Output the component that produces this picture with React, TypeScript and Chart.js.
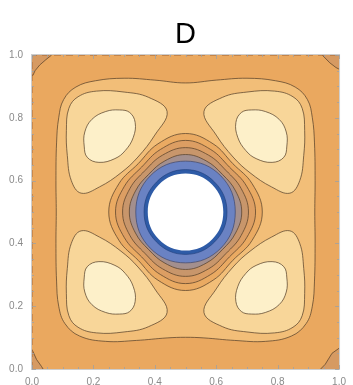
import React, { useEffect, useRef } from 'react';
import { Chart, registerables } from 'chart.js';

Chart.register(...registerables);

type Pt = [number, number];

// ---- axes / labels ----
const titleText = 'D';
const majorTicks = [0, 0.2, 0.4, 0.6, 0.8, 1.0];
const tickLabels = ['0.0', '0.2', '0.4', '0.6', '0.8', '1.0'];
const minorTicks = [0.05, 0.1, 0.15, 0.25, 0.3, 0.35, 0.45, 0.5, 0.55, 0.65, 0.7, 0.75, 0.85, 0.9, 0.95];

// ---- contour polygons (data units) ----
const plotSquare: Pt[] = [[-0.02, -0.02], [1.02, -0.02], [1.02, 1.02], [-0.02, 1.02]];

const cornerTL: Pt[] = [[-0.02, 1.02], [0.064, 1.02], [0.064, 1.0], [0.045, 0.985], [0.025, 0.968], [0.01, 0.95], [0.003, 0.935], [-0.02, 0.935]];
const cornerTR: Pt[] = [[0.945, 1.02], [1.02, 1.02], [1.02, 0.955], [1.0, 0.955], [0.99, 0.96], [0.97, 0.975], [0.945, 1.0]];
const cornerBL: Pt[] = [[-0.02, -0.02], [0.036, -0.02], [0.036, 0.0], [0.031, 0.008], [0.015, 0.03], [0.0, 0.062], [-0.02, 0.062]];
const cornerBR: Pt[] = [[0.94, -0.02], [1.02, -0.02], [1.02, 0.066], [1.0, 0.066], [0.977, 0.05], [0.955, 0.015], [0.94, 0.0]];

const outerContour: Pt[] = [
  [0.079, 0.5], [0.078, 0.6], [0.08, 0.72], [0.087, 0.8], [0.103, 0.858], [0.143, 0.898], [0.207, 0.918],
  [0.3, 0.926], [0.4, 0.92], [0.5, 0.911], [0.6, 0.92], [0.7, 0.926], [0.793, 0.918], [0.857, 0.898],
  [0.897, 0.858], [0.913, 0.8], [0.92, 0.72], [0.922, 0.6], [0.921, 0.5], [0.922, 0.4], [0.92, 0.28],
  [0.913, 0.2], [0.893, 0.145], [0.845, 0.105], [0.76, 0.088], [0.66, 0.091], [0.56, 0.099], [0.5, 0.101],
  [0.44, 0.099], [0.34, 0.091], [0.24, 0.088], [0.155, 0.105], [0.107, 0.145], [0.087, 0.2], [0.08, 0.28], [0.078, 0.4],
];

const lobeOuterLL: Pt[] = [[0.44, 0.18], [0.38, 0.135], [0.3, 0.118], [0.21, 0.115], [0.15, 0.133], [0.12, 0.17], [0.112, 0.24], [0.115, 0.32], [0.128, 0.4], [0.16, 0.44], [0.22, 0.42], [0.29, 0.375], [0.345, 0.325], [0.4, 0.255]];
const lobeOuterLR: Pt[] = [[0.56, 0.18], [0.62, 0.135], [0.7, 0.118], [0.79, 0.115], [0.85, 0.133], [0.88, 0.17], [0.888, 0.24], [0.885, 0.32], [0.872, 0.4], [0.84, 0.44], [0.78, 0.42], [0.71, 0.375], [0.655, 0.325], [0.6, 0.255]];
const lobeOuterUL: Pt[] = [[0.44, 0.82], [0.38, 0.865], [0.3, 0.882], [0.21, 0.885], [0.15, 0.867], [0.12, 0.83], [0.112, 0.76], [0.115, 0.68], [0.128, 0.6], [0.16, 0.56], [0.22, 0.58], [0.29, 0.625], [0.345, 0.675], [0.4, 0.745]];
const lobeOuterUR: Pt[] = [[0.56, 0.82], [0.62, 0.865], [0.7, 0.882], [0.79, 0.885], [0.85, 0.867], [0.88, 0.83], [0.888, 0.76], [0.885, 0.68], [0.872, 0.6], [0.84, 0.56], [0.78, 0.58], [0.71, 0.625], [0.655, 0.675], [0.6, 0.745]];

const lobeInnerLL: Pt[] = [[0.17, 0.29], [0.18, 0.326], [0.218, 0.342], [0.27, 0.33], [0.304, 0.304], [0.33, 0.262], [0.336, 0.215], [0.318, 0.183], [0.285, 0.175], [0.24, 0.18], [0.195, 0.205], [0.172, 0.245]];
const lobeInnerLR: Pt[] = [[0.83, 0.29], [0.82, 0.326], [0.782, 0.342], [0.73, 0.33], [0.696, 0.304], [0.67, 0.262], [0.664, 0.215], [0.682, 0.183], [0.715, 0.175], [0.76, 0.18], [0.805, 0.205], [0.828, 0.245]];
const lobeInnerUL: Pt[] = [[0.17, 0.71], [0.18, 0.674], [0.218, 0.658], [0.27, 0.67], [0.304, 0.696], [0.33, 0.738], [0.336, 0.785], [0.318, 0.817], [0.285, 0.825], [0.24, 0.82], [0.195, 0.795], [0.172, 0.755]];
const lobeInnerUR: Pt[] = [[0.83, 0.71], [0.82, 0.674], [0.782, 0.658], [0.73, 0.67], [0.696, 0.696], [0.67, 0.738], [0.664, 0.785], [0.682, 0.817], [0.715, 0.825], [0.76, 0.82], [0.805, 0.795], [0.828, 0.755]];

const ring1: Pt[] = [[0.75, 0.5], [0.717, 0.59], [0.654, 0.654], [0.59, 0.717], [0.5, 0.75], [0.41, 0.717], [0.346, 0.654], [0.283, 0.59], [0.25, 0.5], [0.283, 0.41], [0.346, 0.346], [0.41, 0.283], [0.5, 0.25], [0.59, 0.283], [0.654, 0.346], [0.717, 0.41]];
const ring2: Pt[] = [[0.728, 0.5], [0.699, 0.582], [0.643, 0.643], [0.582, 0.699], [0.5, 0.728], [0.418, 0.699], [0.357, 0.643], [0.301, 0.582], [0.272, 0.5], [0.301, 0.418], [0.357, 0.357], [0.418, 0.301], [0.5, 0.272], [0.582, 0.301], [0.643, 0.357], [0.699, 0.418]];
const ring3: Pt[] = [[0.705, 0.5], [0.681, 0.575], [0.632, 0.632], [0.575, 0.681], [0.5, 0.705], [0.425, 0.681], [0.368, 0.632], [0.319, 0.575], [0.295, 0.5], [0.319, 0.425], [0.368, 0.368], [0.425, 0.319], [0.5, 0.295], [0.575, 0.319], [0.632, 0.368], [0.681, 0.425]];
const ring4: Pt[] = [[0.683, 0.5], [0.663, 0.567], [0.62, 0.62], [0.567, 0.663], [0.5, 0.683], [0.433, 0.663], [0.38, 0.62], [0.337, 0.567], [0.317, 0.5], [0.337, 0.433], [0.38, 0.38], [0.433, 0.337], [0.5, 0.317], [0.567, 0.337], [0.62, 0.38], [0.663, 0.433]];
const ring5: Pt[] = [[0.662, 0.5], [0.615, 0.615], [0.5, 0.662], [0.385, 0.615], [0.338, 0.5], [0.385, 0.385], [0.5, 0.338], [0.615, 0.385]];
const ring6: Pt[] = [[0.635, 0.5], [0.595, 0.595], [0.5, 0.635], [0.405, 0.595], [0.365, 0.5], [0.405, 0.405], [0.5, 0.365], [0.595, 0.405]];
const hole: Pt[] = [[0.623, 0.5], [0.587, 0.587], [0.5, 0.623], [0.413, 0.587], [0.377, 0.5], [0.413, 0.413], [0.5, 0.377], [0.587, 0.413]];

const edgeDash: Pt[] = [[0, 0], [0, 1], [1, 1]];

const LINE = 'rgba(85,62,40,0.72)';
const NONE = 'rgba(0,0,0,0)';

type Layer = { pts: Pt[]; color: string; stroke: string; tension: number };

const layers: Layer[] = [
  { pts: plotSquare, color: '#EAA85F', stroke: NONE, tension: 0 },
  { pts: cornerTL, color: '#D69A62', stroke: LINE, tension: 0 },
  { pts: cornerTR, color: '#D69A62', stroke: LINE, tension: 0 },
  { pts: cornerBL, color: '#D69A62', stroke: LINE, tension: 0 },
  { pts: cornerBR, color: '#D69A62', stroke: LINE, tension: 0 },
  { pts: outerContour, color: '#F2BE78', stroke: LINE, tension: 0.4 },
  { pts: lobeOuterLL, color: '#F8D699', stroke: LINE, tension: 0.4 },
  { pts: lobeOuterLR, color: '#F8D699', stroke: LINE, tension: 0.4 },
  { pts: lobeOuterUL, color: '#F8D699', stroke: LINE, tension: 0.4 },
  { pts: lobeOuterUR, color: '#F8D699', stroke: LINE, tension: 0.4 },
  { pts: lobeInnerLL, color: '#FDF0C9', stroke: LINE, tension: 0.4 },
  { pts: lobeInnerLR, color: '#FDF0C9', stroke: LINE, tension: 0.4 },
  { pts: lobeInnerUL, color: '#FDF0C9', stroke: LINE, tension: 0.4 },
  { pts: lobeInnerUR, color: '#FDF0C9', stroke: LINE, tension: 0.4 },
  { pts: ring1, color: '#EAAA62', stroke: LINE, tension: 0.4 },
  { pts: ring2, color: '#DC9E63', stroke: LINE, tension: 0.4 },
  { pts: ring3, color: '#C8966B', stroke: LINE, tension: 0.4 },
  { pts: ring4, color: '#A38F8E', stroke: LINE, tension: 0.4 },
  { pts: ring5, color: '#6A82C3', stroke: 'rgba(60,70,110,0.7)', tension: 0.4 },
  { pts: ring6, color: '#2E5BA7', stroke: 'rgba(30,60,120,0.6)', tension: 0.4 },
  { pts: hole, color: '#FFFFFF', stroke: NONE, tension: 0.4 },
];

const toXY = (pts: Pt[]) => pts.map(([x, y]) => ({ x, y }));

const closePlugin = {
  id: 'closeShapes',
  afterDatasetUpdate(chart: any, args: any) {
    const ds = chart.data.datasets[args.index];
    const line = args.meta && args.meta.dataset;
    if (ds && ds.closed && line) {
      line._loop = true;
      line._fullLoop = true;
    }
  },
};

const framePlugin = {
  id: 'mmaFrame',
  afterDatasetsDraw(chart: any) {
    const { ctx, chartArea: a, scales } = chart;
    ctx.save();
    ctx.strokeStyle = '#cdcdcd';
    ctx.lineWidth = 1;
    ctx.strokeRect(a.left - 0.5, a.top - 0.5, a.right - a.left + 1, a.bottom - a.top + 1);
    ctx.strokeStyle = 'rgba(160,160,160,0.8)';
    const drawTicks = (vals: number[], len: number) => {
      ctx.beginPath();
      for (const v of vals) {
        const px = Math.round(scales.x.getPixelForValue(v)) + 0.5;
        const py = Math.round(scales.y.getPixelForValue(v)) + 0.5;
        ctx.moveTo(px, a.bottom); ctx.lineTo(px, a.bottom - len);
        ctx.moveTo(px, a.top); ctx.lineTo(px, a.top + len);
        ctx.moveTo(a.left, py); ctx.lineTo(a.left + len, py);
        ctx.moveTo(a.right, py); ctx.lineTo(a.right - len, py);
      }
      ctx.stroke();
    };
    drawTicks(majorTicks, 4);
    drawTicks(minorTicks, 2);
    ctx.restore();
  },
};

export default function App() {
  const ref = useRef<HTMLCanvasElement | null>(null);
  useEffect(() => {
    if (!ref.current) return;
    const n = layers.length;
    const datasets: any[] = layers.map((l, i) => ({
      data: toXY(l.pts),
      showLine: true,
      closed: true,
      fill: 'shape',
      backgroundColor: l.color,
      borderColor: l.stroke,
      borderWidth: 1,
      tension: l.tension,
      pointRadius: 0,
      pointHoverRadius: 0,
      order: n + 1 - i,
    }));
    datasets.push({
      data: toXY(edgeDash),
      showLine: true,
      fill: false,
      borderColor: 'rgba(175,112,60,0.85)',
      borderWidth: 1.3,
      borderDash: [7, 5],
      tension: 0,
      pointRadius: 0,
      order: 0,
      clip: 2,
    });
    const tickFont = { family: 'Liberation Sans, Arial, sans-serif', size: 10 };
    const chart = new Chart(ref.current, {
      type: 'scatter',
      data: { datasets },
      plugins: [closePlugin, framePlugin],
      options: {
        responsive: false,
        animation: false,
        devicePixelRatio: 1,
        layout: { padding: { left: 0, right: 9, top: 0, bottom: 0 } },
        plugins: {
          legend: { display: false },
          tooltip: { enabled: false },
          title: {
            display: true,
            text: titleText,
            fullSize: false,
            color: '#000',
            font: { family: 'Liberation Sans, Arial, sans-serif', size: 29, weight: 'normal' },
            padding: { top: 17.5, bottom: 2.7 },
          },
        },
        scales: {
          x: {
            type: 'linear',
            min: 0,
            max: 1,
            afterBuildTicks: (s: any) => { s.ticks = majorTicks.map((v) => ({ value: v })); },
            afterFit: (s: any) => { s.height = 16; },
            grid: { display: false, drawTicks: false },
            border: { display: false },
            ticks: {
              autoSkip: false,
              maxRotation: 0,
              padding: 7,
              color: '#8a8a8a',
              font: tickFont,
              callback: (_v: any, i: number) => tickLabels[i],
            },
          },
          y: {
            type: 'linear',
            min: 0,
            max: 1,
            afterBuildTicks: (s: any) => { s.ticks = majorTicks.map((v) => ({ value: v })); },
            afterFit: (s: any) => { s.width = 32; },
            grid: { display: false, drawTicks: false },
            border: { display: false },
            ticks: {
              autoSkip: false,
              padding: 9,
              color: '#8a8a8a',
              font: tickFont,
              callback: (_v: any, i: number) => tickLabels[i],
            },
          },
        },
      } as any,
    });
    return () => chart.destroy();
  }, []);
  return (
    <div style={{ position: 'absolute', left: 0, top: 0, width: 353, height: 385 }}>
      <canvas ref={ref} width={353} height={385} style={{ display: 'block', width: 353, height: 385 }} />
    </div>
  );
}
